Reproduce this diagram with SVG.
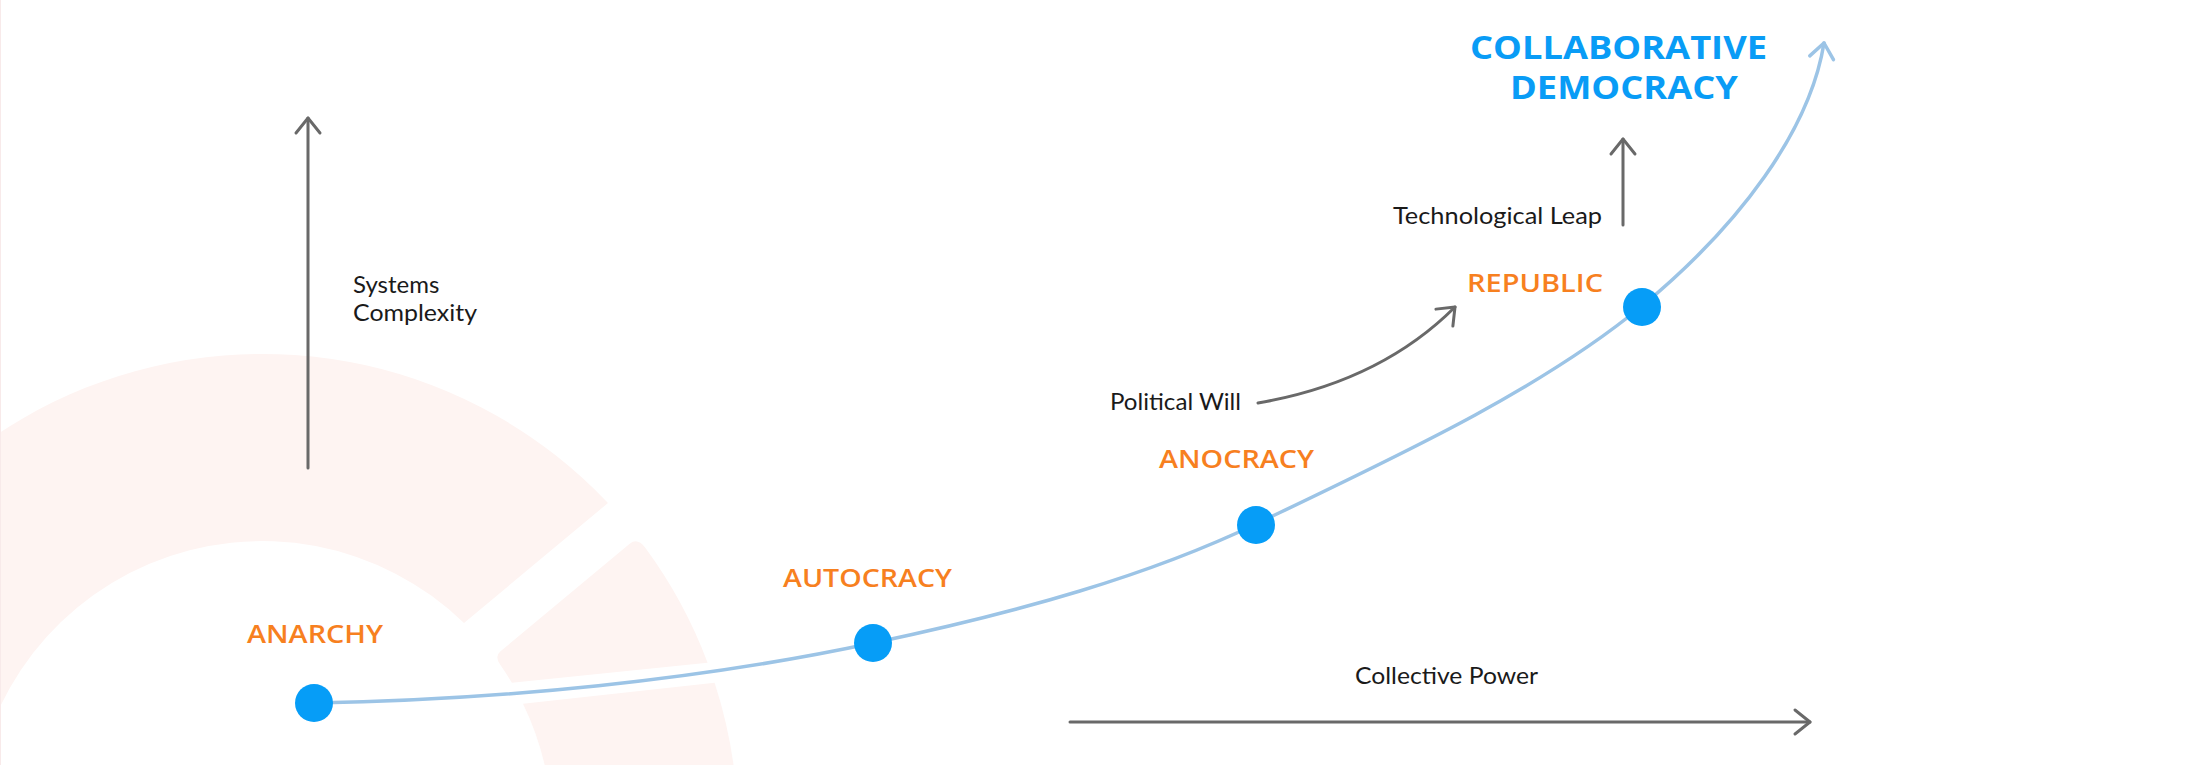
<svg xmlns="http://www.w3.org/2000/svg" width="2186" height="765" viewBox="0 0 2186 765">
  <style>
    .bg { fill: #FEF4F2; }
    .stage { font-family: "Open Sans", "Liberation Sans", sans-serif; font-weight: 600; font-size: 25px; fill: #F7801F; }
    .goal { font-family: "Open Sans", "Liberation Sans", sans-serif; font-weight: 700; font-size: 32px; fill: #099CF6; }
    .axis { font-family: Lato, "Liberation Sans", sans-serif; font-weight: 400; font-size: 24px; fill: #1A1A1A; }
    .dot { fill: #069DF7; }
    .path { fill: none; stroke: #9CC4E6; stroke-width: 3.5; stroke-linecap: round; }
    .arrow { fill: none; stroke: #696969; stroke-width: 3; stroke-linecap: round; }
  </style>
  <defs>
    <marker id="headGray" markerUnits="userSpaceOnUse" markerWidth="40" markerHeight="40" viewBox="-20 -20 40 40" refX="0" refY="0" orient="auto">
      <path d="M-15,-12 L0,0 L-15,12" fill="none" stroke="#696969" stroke-width="3" stroke-linecap="round" stroke-linejoin="round"/>
    </marker>
    <marker id="headBlue" markerUnits="userSpaceOnUse" markerWidth="40" markerHeight="40" viewBox="-20 -20 40 40" refX="0" refY="0" orient="auto">
      <path d="M-15,-12 L0,0 L-15,12" fill="none" stroke="#9CC4E6" stroke-width="3.5" stroke-linecap="round" stroke-linejoin="round"/>
    </marker>
  </defs>

  <rect x="0" y="0" width="2186" height="765" fill="#FFFFFF"/>

  <g id="background-gear">
    <path class="bg" d="M608,503 A476,476 0 0 0 -214,830 L-28,830 A290,290 0 0 1 464,623 Z"/>
    <path class="bg" d="M629.7,543.7 Q637.4,537.3 645.1,547.5 A476,476 0 0 1 707.6,662.7 L511.9,682.8 A290,290 0 0 0 500.1,664.5 Q494.3,656.4 500.5,651.3 Z"/>
    <path class="bg" d="M523,703.7 L714.6,682.7 A476,476 0 0 1 738,830 L552,830 A290,290 0 0 0 523,703.7 Z"/>
    <line x1="0.5" y1="0" x2="0.5" y2="765" stroke="#F8EAEA" stroke-width="1"/>
  </g>

  <g id="connectors">
    <path id="progress-curve" class="path" marker-end="url(#headBlue)" d="M314,703 C500,700 700,680 873,643 C1020,612 1150,575 1256,524 C1400,455 1540,390 1642,306 C1740,225 1810,130 1824,43"/>
    <line id="axis-systems" class="arrow" marker-end="url(#headGray)" x1="308" y1="468" x2="308" y2="118"/>
    <line id="axis-power" class="arrow" marker-end="url(#headGray)" x1="1070" y1="722" x2="1810" y2="722"/>
    <line id="arrow-tech" class="arrow" marker-end="url(#headGray)" x1="1623" y1="225" x2="1623" y2="139"/>
    <path id="arrow-political" class="arrow" marker-end="url(#headGray)" d="M1258,403 Q1380,382 1455,307"/>
  </g>

  <g id="node-anarchy">
    <circle class="dot" cx="314" cy="703" r="19"/>
    <text class="stage" x="247" y="643" textLength="136" lengthAdjust="spacingAndGlyphs">ANARCHY</text>
  </g>
  <g id="node-autocracy">
    <circle class="dot" cx="873" cy="643" r="19"/>
    <text class="stage" x="783" y="587" textLength="169" lengthAdjust="spacingAndGlyphs">AUTOCRACY</text>
  </g>
  <g id="node-anocracy">
    <circle class="dot" cx="1256" cy="525" r="19"/>
    <text class="stage" x="1159" y="468" textLength="155" lengthAdjust="spacingAndGlyphs">ANOCRACY</text>
  </g>
  <g id="node-republic">
    <circle class="dot" cx="1642" cy="307" r="19"/>
    <text class="stage" x="1467" y="292" textLength="136" lengthAdjust="spacingAndGlyphs">REPUBLIC</text>
  </g>
  <g id="node-collaborative-democracy">
    <text class="goal" x="1470" y="59" textLength="297" lengthAdjust="spacingAndGlyphs">COLLABORATIVE</text>
    <text class="goal" x="1510" y="99" textLength="228" lengthAdjust="spacingAndGlyphs">DEMOCRACY</text>
  </g>

  <g id="label-systems-complexity">
    <text class="axis" x="353" y="293">Systems</text>
    <text class="axis" x="353" y="321" textLength="124" lengthAdjust="spacingAndGlyphs">Complexity</text>
  </g>
  <g id="label-collective-power">
    <text class="axis" x="1355" y="684" textLength="183" lengthAdjust="spacingAndGlyphs">Collective Power</text>
  </g>
  <g id="label-technological-leap">
    <text class="axis" x="1393" y="224" textLength="209" lengthAdjust="spacingAndGlyphs">Technological Leap</text>
  </g>
  <g id="label-political-will">
    <text class="axis" x="1110" y="410" textLength="131" lengthAdjust="spacingAndGlyphs">Political Will</text>
  </g>
</svg>
